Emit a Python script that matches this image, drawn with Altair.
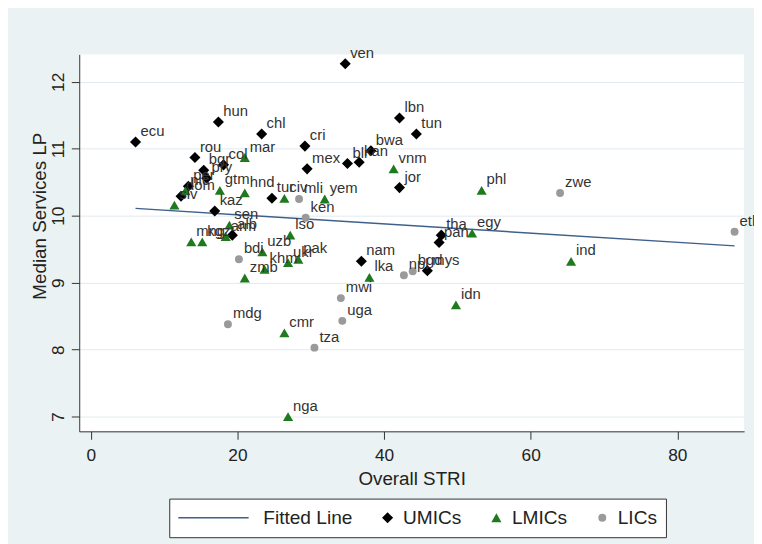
import altair as alt
import pandas as pd

# ---- data ----
codes = ["ven", "ecu", "hun", "chl", "lbn", "tun", "cri", "bwa", "blr", "kan",
         "mex", "jor", "tur", "kaz", "rou", "bgr", "pry", "col", "alb", "dom",
         "per", "tha", "pan", "nam", "mys",
         "mar", "vnm", "phl", "hnd", "gtm", "civ", "yem", "slv", "nic", "sen",
         "arm", "mng", "kgz", "lso", "egy", "uzb", "pak", "ukr", "khm", "zmb",
         "ind", "lka", "idn", "cmr", "nga",
         "zwe", "eth", "mli", "ken", "bdi", "npl", "bgd", "mwi", "uga", "mdg", "tza"]
stri = [34.7, 6.1, 17.4, 23.3, 42.1, 44.4, 29.2, 38.2, 35.0, 36.6,
        29.5, 42.1, 24.7, 16.9, 14.2, 15.4, 15.8, 18.1, 19.3, 12.3,
        13.3, 47.8, 47.5, 36.9, 45.9,
        21.0, 41.3, 53.3, 21.0, 17.6, 26.4, 31.9, 11.4, 12.9, 18.9,
        18.4, 13.7, 15.2, 27.2, 52.0, 23.4, 28.3, 26.9, 23.7, 21.0,
        65.5, 38.0, 49.8, 26.4, 26.9,
        64.0, 87.8, 28.4, 29.3, 20.2, 42.7, 43.9, 34.1, 34.3, 18.7, 30.5]
services_lp = [12.27, 11.10, 11.40, 11.22, 11.46, 11.22, 11.04, 10.97, 10.78, 10.80,
               10.70, 10.42, 10.26, 10.07, 10.87, 10.68, 10.56, 10.76, 9.71, 10.29,
               10.44, 9.71, 9.60, 9.32, 9.18,
               10.87, 10.70, 10.38, 10.34, 10.38, 10.26, 10.25, 10.16, 10.37, 9.86,
               9.69, 9.61, 9.61, 9.71, 9.74, 9.46, 9.35, 9.30, 9.20, 9.07,
               9.32, 9.08, 8.67, 8.25, 7.00,
               10.34, 9.76, 10.25, 9.97, 9.35, 9.11, 9.17, 8.77, 8.43, 8.38, 8.03]
income_group = ["UMICs"] * 25 + ["LMICs"] * 25 + ["LICs"] * 11

fit_x = [6.1, 87.8]
fit_y = [10.11, 9.55]

x_ticks = [0, 20, 40, 60, 80]
y_ticks = [7, 8, 9, 10, 11, 12]

legend_groups = ["Fitted Line", "UMICs", "LMICs", "LICs"]
group_colors = ["#3f5f8c", "#000000", "#1f7a1f", "#9a9a9a"]
group_shapes = ["M-1,-0.018L0.78,-0.018L0.78,0.018L-1,0.018Z", "diamond", "triangle-up", "circle"]
group_sizes = [6400, 125, 105, 64]

FONT = "Liberation Sans"
TXT = "#222222"

pts = pd.DataFrame({"code": codes, "stri": stri, "lp": services_lp, "group": income_group})
fit = pd.DataFrame({"stri": fit_x, "lp": fit_y})

x_scale = alt.Scale(domain=[-1.58, 89.1], nice=False, zero=False)
y_scale = alt.Scale(domain=[6.78, 12.41], nice=False, zero=False)

x_axis = alt.Axis(values=x_ticks, format="d", title="Overall STRI", grid=False, tickSize=8,
                  labelFont=FONT, labelFontSize=17.5, labelColor=TXT, labelPadding=7,
                  titleFont=FONT, titleFontSize=19, titleFontWeight="normal", titleColor=TXT,
                  titlePadding=6, domainColor="#333333", tickColor="#333333")
y_axis = alt.Axis(values=y_ticks, format="d", title="Median Services LP", grid=True, gridColor="#E2EAEF",
                  tickSize=8, labelAngle=270, labelAlign="center", labelBaseline="bottom",
                  labelFont=FONT, labelFontSize=17.5, labelColor=TXT, labelPadding=4,
                  titleFont=FONT, titleFontSize=19, titleFontWeight="normal", titleColor=TXT,
                  titlePadding=0, titleY=163, domainColor="#333333", tickColor="#333333")

legend = alt.Legend(title=None, orient="none", legendX=91, legendY=449, direction="horizontal",
                    fillColor="white", strokeColor="#333333", padding=9,
                    labelFont=FONT, labelFontSize=19.3, labelColor=TXT, labelOffset=6,
                    columnPadding=25, clipHeight=20, symbolStrokeWidth=0, symbolOpacity=1)

line = alt.Chart(fit).mark_line(color="#3f5f8c", strokeWidth=1.5).encode(
    x=alt.X("stri:Q", scale=x_scale, axis=x_axis),
    y=alt.Y("lp:Q", scale=y_scale, axis=y_axis),
)

points = alt.Chart(pts).mark_point(filled=True, opacity=1).encode(
    x=alt.X("stri:Q", scale=x_scale, axis=x_axis),
    y=alt.Y("lp:Q", scale=y_scale, axis=y_axis),
    color=alt.Color("group:N", scale=alt.Scale(domain=legend_groups, range=group_colors), legend=legend),
    shape=alt.Shape("group:N", scale=alt.Scale(domain=legend_groups, range=group_shapes), legend=legend),
    size=alt.Size("group:N", scale=alt.Scale(type="ordinal", domain=legend_groups, range=group_sizes),
                  legend=legend),
)

labels = alt.Chart(pts).mark_text(align="left", baseline="middle", dx=5, dy=-11,
                                  font=FONT, fontSize=15, color="#333333").encode(
    x=alt.X("stri:Q", scale=x_scale),
    y=alt.Y("lp:Q", scale=y_scale),
    text="code:N",
)

chart = alt.layer(line, points, labels).properties(
    width=672, height=381,
    padding={"left": 72, "top": 44, "right": 10, "bottom": 111},
    autosize=alt.AutoSizeParams(type="none"),
    background="#EAF2F3",
).configure_view(fill="white", stroke=None)

chart.save("out.html", embed_options={"renderer": "svg", "actions": False})
